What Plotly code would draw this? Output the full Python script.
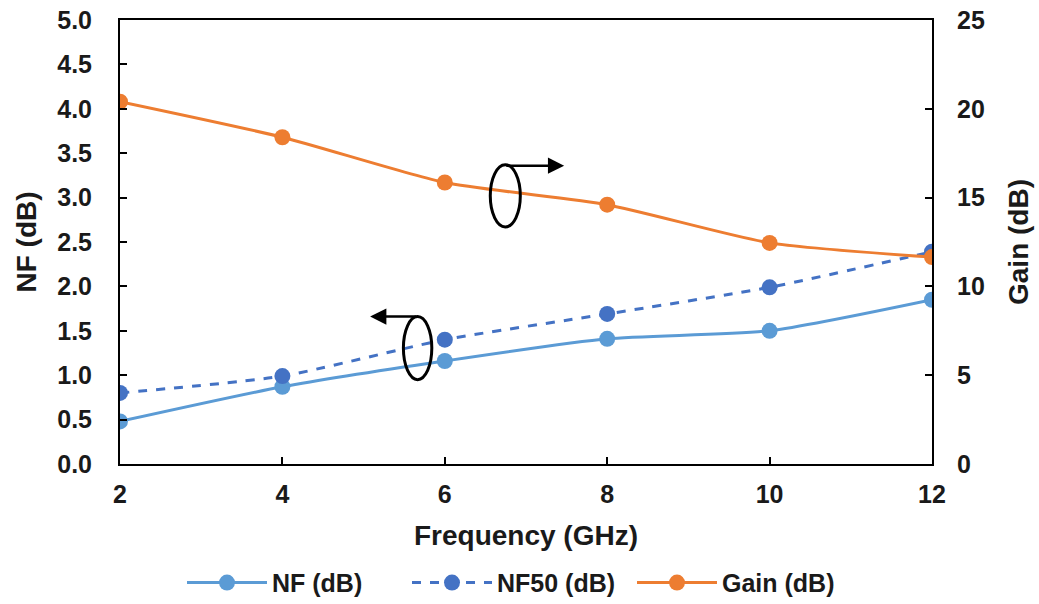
import plotly.graph_objects as go

freq = [2, 4, 6, 8, 10, 12]
freq_labels = ["2", "4", "6", "8", "10", "12"]
nf = [0.48, 0.87, 1.16, 1.41, 1.50, 1.85]
nf50 = [0.80, 0.99, 1.40, 1.69, 1.99, 2.39]
gain = [20.4, 18.4, 15.85, 14.6, 12.45, 11.65]

C_NF = "#5B9BD5"
C_NF50 = "#4472C4"
C_GAIN = "#ED7D31"
FONT = "Liberation Sans, Arial, sans-serif"
TXT = "#1a1a1a"

fig = go.Figure()
fig.add_trace(go.Scatter(x=freq, y=nf, name="<b>NF (dB)</b>", mode="lines+markers",
                         line=dict(color=C_NF, width=3, shape="spline", smoothing=0.6),
                         marker=dict(size=16, color=C_NF)))
fig.add_trace(go.Scatter(x=freq, y=nf50, name="<b>NF50 (dB)</b>", mode="lines+markers",
                         line=dict(color=C_NF50, width=3, dash="dash", shape="spline", smoothing=0.6),
                         marker=dict(size=16, color=C_NF50)))
fig.add_trace(go.Scatter(x=freq, y=gain, name="<b>Gain (dB)</b>", mode="lines+markers", yaxis="y2",
                         line=dict(color=C_GAIN, width=3, shape="spline", smoothing=0.6),
                         marker=dict(size=16, color=C_GAIN)))

def axis_common():
    return dict(showgrid=False, zeroline=False, showline=True, linecolor="black", linewidth=2,
                ticks="inside", ticklen=7, tickwidth=1.5, tickcolor="black",
                tickfont=dict(family=FONT, size=25, color=TXT), automargin=False)

fig.update_layout(
    width=1039, height=604,
    margin=dict(l=120, r=107, t=20, b=140),
    plot_bgcolor="white", paper_bgcolor="white",
    font=dict(family=FONT, color=TXT),
    xaxis=dict(range=[2, 12], tickvals=freq, ticktext=["<b>%s</b>" % t for t in freq_labels],
               mirror=True, ticklabelstandoff=7,
               title=dict(text="<b>Frequency (GHz)</b>", font=dict(size=28, family=FONT, color=TXT), standoff=18),
               **axis_common()),
    yaxis=dict(range=[0, 5], dtick=0.5, tickformat=".1f", ticklabelstandoff=21,
               tickprefix="<b>", ticksuffix="</b>",
               title=dict(text="<b>NF (dB)</b>", font=dict(size=28, family=FONT, color=TXT), standoff=12),
               **axis_common()),
    yaxis2=dict(range=[0, 25], dtick=5, overlaying="y", side="right", ticklabelstandoff=18,
                tickprefix="<b>", ticksuffix="</b>",
                title=dict(text="<b>Gain (dB)</b>", font=dict(size=28, family=FONT, color=TXT), standoff=24),
                **axis_common()),
    legend=dict(orientation="h", x=0.5, xanchor="center", xref="container",
                y=0.035, yanchor="middle", yref="container",
                font=dict(family=FONT, size=25, color=TXT), itemwidth=80, entrywidth=130),
    showlegend=True,
)

# Ellipse + arrow annotations
fig.add_shape(type="circle", xref="x", yref="y", x0=6.56, x1=6.93, y0=2.67, y1=3.37,
              line=dict(color="black", width=3))
fig.add_shape(type="circle", xref="x", yref="y", x0=5.49, x1=5.84, y0=0.95, y1=1.66,
              line=dict(color="black", width=3))
fig.add_annotation(x=7.47, y=3.36, ax=6.74, ay=3.36, xref="x", yref="y", axref="x", ayref="y",
                   text="", showarrow=True, arrowhead=2, arrowsize=1.3, arrowwidth=2.5, arrowcolor="black")
fig.add_annotation(x=5.08, y=1.66, ax=5.67, ay=1.66, xref="x", yref="y", axref="x", ayref="y",
                   text="", showarrow=True, arrowhead=2, arrowsize=1.3, arrowwidth=2.5, arrowcolor="black")

fig.write_html("out.html")
